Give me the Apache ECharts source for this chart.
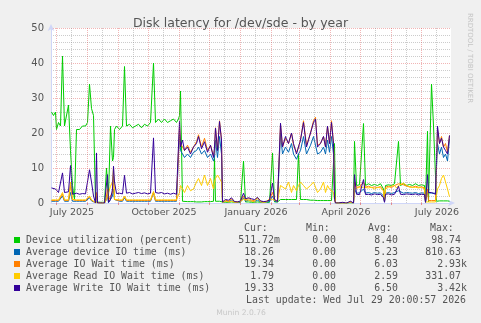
<!DOCTYPE html>
<html>
<head>
<meta charset="utf-8">
<script src="https://cdn.jsdelivr.net/npm/echarts@6/dist/echarts.min.js"></script>
<style>
  html, body { margin: 0; padding: 0; background: #f0f0f0; }
  #chart { width: 481px; height: 323px; }
</style>
</head>
<body>
<div id="chart"></div>
<script>
// day 0 = 1 July 2025, one sample every few days
const days = [
  -5, -3, -1, 0, 2, 4, 6, 8, 10, 12, 14, 16, 18, 20, 23, 26, 29, 31, 33, 35, 37, 39, 40, 41, 44, 48, 50, 51, 52, 54,
  56, 57, 58, 60, 63, 66, 68, 70, 73, 76, 79, 82, 85, 88, 91, 94, 97, 99, 102, 105, 108, 111, 114, 117, 120, 122,
  123, 124, 126, 128, 131, 134, 137, 140, 142, 145, 148, 151, 154, 157, 158, 159, 161, 163, 165, 166,
  169, 172, 175, 178, 181, 184, 187, 189, 192, 195, 198, 201, 204, 207, 210, 213, 216, 218, 221, 223,
  224, 226, 229, 232, 235, 237, 240, 242, 244, 247, 250, 254, 257, 259, 261, 264, 267, 269, 271, 273, 275, 277, 278, 279,
  282, 286, 290, 294, 297,
  298, 300, 303, 305, 307, 309, 312, 315, 318, 321, 324, 327, 328, 329, 332, 335, 338, 340, 342, 344,
  347, 350, 353, 356, 359, 362, 365, 368, 369, 370, 371, 372, 375, 377, 379, 380, 381, 383, 385, 387, 389, 391, 393
];

const utilization = [
  26, 25, 26, 21, 23, 22, 42, 22, 22, 28, 15, 5, 1, 21, 21, 22, 22, 23, 34, 27, 25, 0.3, 0.3, 0.3, 0.2, 0.2, 10, 10, 2, 22,
  12, 13, 21, 22, 21, 22, 39, 22, 22.5, 21.5, 22, 22.5, 21.5, 22.5, 22, 23, 40, 23, 24, 23, 24, 23, 23.5, 24, 23, 24,
  25, 32, 0.5, 0.5, 0.4, 0.4, 0.4, 0.3, 0.3, 0.3, 0.4, 0.4, 0.4, 0.5, 13, 0.5, 0.5, 0.5, 0.5, 0.3,
  0.2, 0.2, 0.3, 0.2, 0.2, 0.2, 12, 0.3, 0.3, 0.2, 0.2, 0.3, 0.2, 0.2, 0.2, 0.2, 14.3, 0.3, 0.3, 0.3,
  1, 1, 1, 1, 1, 1, 1, 14, 1, 1, 1, 0.8, 0.8, 0.8, 0.7, 0.7, 0.7, 0.7, 0.7, 0.7, 0.7, 0.7, 17, 0.1,
  0, 0, 0, 0, 0,
  17.6, 5, 5.2, 5, 22.7, 5, 5.5, 5, 5.3, 5, 5.5, 4, 1, 5, 5.2, 5, 5.5, 5, 17.6, 5,
  5.5, 5, 5.3, 5, 5.5, 5, 5.2, 5, 0.5, 0.5, 20.5, 0.4, 34, 22, 22, 0.5, 0.5, 0.6, 0.5, 0.6, 0.5, 0.6, 0.5
];

const deviceIoTime = [
  0.5, 0.5, 0.5, 0.5, 0.5, 0.5, 2, 0.5, 0.5, 0.5, 3, 0.5, 0.3, 0.5, 0.5, 0.5, 0.5, 0.5, 1.5, 0.6, 0.5, 0.1, 2, 0.1, 0, 0, 1, 2, 0.1, 1,
  2, 4, 1, 0.5, 0.5, 0.5, 1.5, 0.5, 0.5, 0.5, 0.5, 0.5, 0.5, 0.5, 0.5, 0.5, 3, 0.5, 0.5, 0.5, 0.5, 0.5, 0.5, 0.5, 0.5, 0.5,
  20, 15, 14, 13, 14, 13, 14.5, 15, 16, 14, 15, 13, 14, 12, 13, 18, 13, 19, 14, 0.2,
  0.5, 0.3, 0.8, 0.2, 0.2, 0.3, 1.5, 0.5, 0.8, 0.5, 0.4, 0.8, 0.3, 0.2, 0.3, 0.4, 2, 0.5, 0.3, 0.3,
  20, 14, 16, 14.5, 17, 14, 12.5, 14, 15, 19, 14, 16.5, 19, 19.5, 14, 14.5, 16, 14, 18, 14.5, 19, 14, 2, 0,
  0, 0, 0, 0.2, 0,
  4, 2.8, 2.9, 2.8, 4, 2.8, 3, 2.7, 3, 2.8, 2.9, 2, 0.3, 2.8, 3, 2.7, 3, 2.8, 3.5, 3,
  2.8, 3, 2.9, 2.8, 3, 2.7, 2.9, 2.8, 0.2, 0.2, 3, 2.8, 2.8, 2.8, 2.8, 2.5, 17, 14, 16, 13, 14, 12, 18.3
];

const ioWait = [
  0.7, 0.7, 0.7, 0.7, 0.7, 0.7, 2.5, 0.7, 0.7, 0.7, 5, 1, 0.5, 0.7, 0.7, 0.7, 0.7, 0.7, 1.8, 0.8, 0.7, 0.1, 3, 0.1, 0, 0, 2, 4, 0.5, 2,
  3, 8, 1, 0.7, 0.7, 0.7, 2, 0.7, 0.7, 0.7, 0.7, 0.7, 0.7, 0.7, 0.7, 0.7, 3, 0.7, 0.7, 0.7, 0.7, 0.7, 0.7, 0.7, 0.7, 0.7,
  22, 17, 16, 15, 16.5, 14.5, 16, 17.5, 19.5, 16, 18.5, 15, 16.5, 13.5, 15, 21.5, 15, 23.5, 18, 0.3,
  0.8, 0.5, 1.2, 0.3, 0.3, 0.5, 2, 0.8, 1.3, 0.8, 0.7, 1.5, 0.5, 0.3, 0.5, 1, 3, 1, 0.5, 0.5,
  22.5, 16, 18.5, 17, 20, 16.5, 14.5, 16, 18, 23.5, 16.5, 20, 23.5, 24.5, 16.5, 17, 19, 16, 22, 17, 23.5, 17, 3, 0,
  0, 0, 0, 0.3, 0,
  6, 4.5, 4.6, 4.4, 6, 4.5, 4.8, 4.4, 4.6, 4.4, 4.7, 3.5, 0.5, 4.5, 4.8, 4.4, 5, 4.5, 5.5, 5,
  5.2, 4.8, 4.7, 4.5, 4.8, 4.5, 4.6, 4.4, 0.3, 0.3, 4, 0.7, 0.7, 0.7, 0.7, 0.7, 21, 17, 19, 16, 17, 14.5, 19.3
];

const readIoWait = [
  0.9, 0.9, 0.9, 0.9, 0.9, 0.9, 3, 0.9, 0.9, 0.9, 6, 1, 0.5, 0.9, 0.9, 0.9, 0.9, 0.9, 2, 0.9, 0.9, 0.1, 0.2, 0.1, 0, 0, 1, 1, 0.5, 4.8,
  6, 10, 1, 0.9, 0.9, 0.9, 2, 0.9, 0.9, 0.9, 0.9, 0.9, 0.9, 0.9, 0.9, 0.9, 3.3, 0.9, 0.9, 0.9, 0.9, 0.9, 0.9, 0.9, 0.9, 0.9,
  3, 5, 4, 3, 5, 3.5, 4, 6, 7, 5, 8, 5, 7, 4, 6, 7, 8, 7, 6, 0.2,
  0.5, 0.3, 0.5, 0.2, 0.2, 0.5, 1, 0.5, 0.8, 0.5, 0.3, 1.5, 0.3, 0.2, 0.3, 1.2, 1, 0.8, 0.5, 0.3,
  5, 5, 4, 6, 3, 5, 3.5, 5, 6, 5, 4, 5, 6, 6, 3, 4, 6, 3, 5, 4, 4, 3, 1, 0,
  0, 0, 0, 0.2, 0,
  4, 4, 4.5, 4, 4.5, 4, 4.3, 4.5, 4, 4.5, 4.3, 3.5, 0.5, 4, 4.5, 4.8, 5, 4.3, 5, 5.5,
  5.7, 5, 4.5, 4.5, 4.5, 4.3, 4.5, 4, 0.3, 0.3, 0.5, 0.3, 0.3, 0.3, 0.3, 0.3, 4, 5, 7, 8, 6, 4, 1.8
];

const writeIoWait = [
  4.3, 4.8, 4.0, 3.5, 3.0, 3.2, 8.6, 3.0, 2.8, 3.2, 10.7, 2.5, 2.5, 2.8, 2.5, 2.7, 2.6, 2.8, 9.5, 6, 2, 0, 14.3, 0, 0, 0, 0.5, 8.1, 0.2, 1,
  4, 10.5, 6, 2.7, 2.8, 2.6, 7.9, 2.8, 3.0, 2.6, 2.8, 3.0, 2.7, 2.9, 2.6, 2.8, 18.6, 3, 2.8, 3, 2.6, 2.8, 2.5, 2.8, 2.5, 2.6,
  23.3, 16, 18, 15, 16, 14, 16, 17, 19, 15.5, 17.5, 14.5, 16.5, 13, 16, 21.4, 15, 23.3, 18, 0.3,
  1.0, 0.8, 1.5, 0.4, 0.3, 0.6, 2.8, 1.2, 1.5, 1.2, 1.0, 1.6, 0.6, 0.4, 0.5, 0.8, 5.7, 1.0, 0.4, 0.3,
  22.8, 16, 19, 17, 20, 17, 14, 16, 18, 23, 16, 20, 23, 24, 16, 17, 19, 16, 22, 17, 23, 17, 1, 0,
  0, 0.2, 0, 0.5, 0,
  8.1, 2.5, 2.4, 2.5, 6.7, 2.4, 2.5, 2.3, 2.6, 2.4, 2.5, 1.5, 0.2, 2.5, 2.6, 2.3, 2.5, 2.4, 4.8, 2.5,
  2.4, 2.6, 2.5, 2.4, 2.6, 2.3, 2.5, 2.4, 0.2, 0.2, 8.1, 3, 3, 3.2, 2.5, 2, 22, 17, 18.5, 16, 15, 14, 19.3
];

// first day of each month (days from 1 July 2025)
const monthStarts = [0, 31, 62, 92, 123, 153, 184, 215, 243, 274, 304, 335, 365];
const monthLabels = ["July 2025", "October 2025", "January 2026", "April 2026", "July 2026"];
const monthLabelDays = [0, 92, 184, 274, 365];

const seriesNames = [
  "Device utilization (percent)",
  "Average device IO time (ms)",
  "Average IO Wait time (ms)",
  "Average Read IO Wait time (ms)",
  "Average Write IO Wait time (ms)",
];
const seriesColors = ["#00cc00", "#0066b3", "#ff8000", "#ffcc00", "#330099"];
const curText = ["511.72m", "18.26", "19.34", "1.79", "19.33"];
const minText = ["0.00", "0.00", "0.00", "0.00", "0.00"];
const avgText = ["8.40", "5.23", "6.03", "2.59", "6.50"];
const maxText = ["98.74", "810.63", "2.93k", "331.07", "3.42k"];
const statHeaders = ["Cur:", "Min:", "Avg:", "Max:"];
const lastUpdate = "Last update: Wed Jul 29 20:00:57 2026";

const chart = echarts.init(document.getElementById("chart"));

const FONT = "#555";
const MONO = "'DejaVu Sans Mono', monospace";
const SANS = "'DejaVu Sans', sans-serif";
const majorGrid = { color: "rgba(222,79,79,0.42)", type: [1, 1], width: 1 };
const minorGrid = { color: "rgba(143,143,143,0.45)", type: [1, 1], width: 1 };

// labels sit in the middle of their month, like rrdtool does
const labelDays = monthLabelDays.map((d) => d + 15.5);

const valueSeries = [utilization, deviceIoTime, ioWait, readIoWait, writeIoWait];

// legend + stats block under the plot
const graphics = [];
const colRight = [274, 336, 398, 461];
const headerLeft = [244, 306, 368, 430];
statHeaders.forEach((h, i) => {
  graphics.push({ type: "text", left: headerLeft[i], top: 223,
    style: { text: h, fill: FONT, font: "9.9px " + MONO } });
});
const addNum = (txt, right, y) => {
  const suffix = /[a-z]$/i.test(txt) ? txt.slice(-1) : "";
  const num = suffix ? txt.slice(0, -1) : txt;
  graphics.push({ type: "text", x: right, y: y,
    style: { text: num, fill: FONT, font: "9.9px " + MONO, textAlign: "right", textVerticalAlign: "middle" } });
  if (suffix) {
    graphics.push({ type: "text", x: right, y: y,
      style: { text: suffix, fill: FONT, font: "9.9px " + MONO, textAlign: "left", textVerticalAlign: "middle" } });
  }
};
seriesNames.forEach((name, i) => {
  const y = 240 + i * 12;
  graphics.push({ type: "rect", shape: { x: 14, y: y - 3, width: 6, height: 6 }, style: { fill: seriesColors[i] } });
  graphics.push({ type: "text", x: 26, y: y,
    style: { text: name, fill: FONT, font: "9.9px " + MONO, textVerticalAlign: "middle" } });
  addNum(curText[i], colRight[0], y);
  addNum(minText[i], colRight[1], y);
  addNum(avgText[i], colRight[2], y);
  addNum(maxText[i], colRight[3], y);
});
graphics.push({ type: "text", x: 466, y: 300,
  style: { text: lastUpdate, fill: FONT, font: "9.9px " + MONO, textAlign: "right", textVerticalAlign: "middle" } });
graphics.push({ type: "text", x: 241, y: 313,
  style: { text: "Munin 2.0.76", fill: "#c8c8c8", font: "7.6px " + SANS, textAlign: "center", textVerticalAlign: "middle" } });
graphics.push({ type: "text", x: 470, y: 58, rotation: -Math.PI / 2,
  style: { text: "RRDTOOL / TOBI OETIKER", fill: "#c4c4c4", font: "7px " + SANS, textAlign: "center", textVerticalAlign: "middle" } });

const gridLines = [];
monthStarts.forEach((d) => {
  gridLines.push({ xAxis: d + 15, lineStyle: minorGrid });
});
monthStarts.forEach((d) => {
  gridLines.push({ xAxis: d, lineStyle: majorGrid });
});

const option = {
  backgroundColor: "#f0f0f0",
  animation: false,
  title: {
    text: "Disk latency for /dev/sde - by year",
    left: "center",
    top: 11,
    textStyle: { color: FONT, fontSize: 12.5, fontWeight: "normal", fontFamily: SANS, lineHeight: 16 },
  },
  grid: { left: 51, top: 28, width: 400, height: 175, show: true, backgroundColor: "#fff", borderWidth: 0 },
  xAxis: {
    type: "value",
    min: -5.5,
    max: 394.5,
    axisLine: {
      show: true,
      lineStyle: { color: "#cfd6f8", width: 1 },
      symbol: ["none", "arrow"],
      symbolSize: [5, 7],
      symbolOffset: [0, 4],
    },
    axisTick: { show: true, customValues: monthStarts, length: 2, inside: false, lineStyle: { color: "rgba(222,79,79,0.6)" } },
    axisLabel: {
      customValues: labelDays,
      formatter: (v) => {
        const i = labelDays.findIndex((d) => Math.abs(d - v) < 0.01);
        return i >= 0 ? monthLabels[i] : "";
      },
      color: FONT,
      fontSize: 9.5,
      fontFamily: SANS,
      margin: 5,
    },
    splitLine: { show: false },
  },
  yAxis: {
    type: "value",
    min: 0,
    max: 50,
    interval: 10,
    axisLine: {
      show: true,
      onZero: false,
      lineStyle: { color: "#cfd6f8", width: 1 },
      symbol: ["none", "arrow"],
      symbolSize: [5, 7],
      symbolOffset: [0, 4],
    },
    axisTick: { show: false },
    axisLabel: { color: FONT, fontSize: 10, fontFamily: SANS, margin: 7 },
    splitLine: { show: true, lineStyle: majorGrid },
    minorTick: { show: false, splitNumber: 5 },
    minorSplitLine: { show: true, lineStyle: minorGrid },
  },
  series: [
    {
      type: "line",
      data: [],
      silent: true,
      z: 1,
      markLine: { silent: true, symbol: "none", label: { show: false }, animation: false, data: gridLines },
    },
  ].concat(valueSeries.map((vals, i) => ({
    name: seriesNames[i],
    type: "line",
    z: 2,
    showSymbol: false,
    silent: true,
    data: days.map((d, j) => [d, vals[j]]),
    lineStyle: { width: 1, color: seriesColors[i] },
    itemStyle: { color: seriesColors[i] },
  }))),
  graphic: graphics,
};

chart.setOption(option);
</script>
</body>
</html>
